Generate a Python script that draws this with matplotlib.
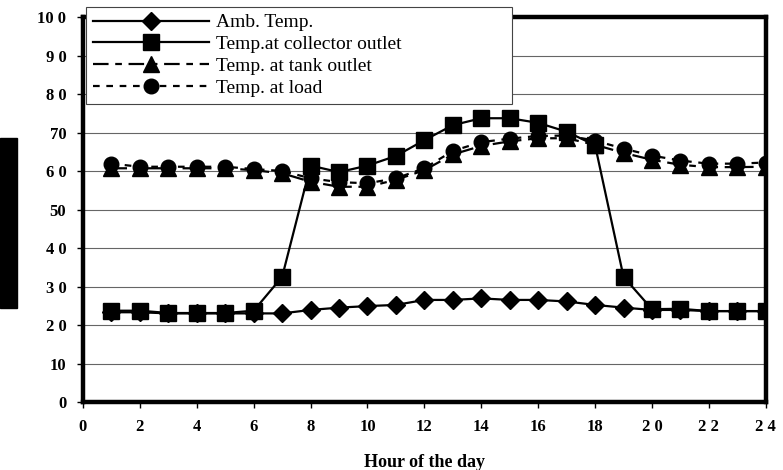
import matplotlib.pyplot as plt
import matplotlib.patches as mpatches

hours = list(range(1, 25))

# ambient temperature (diamonds)
amb_temp = [23.4, 23.4, 23.1, 23.1, 23.1, 23.1, 23.1, 24.0, 24.6, 25.0, 25.3, 26.6,
            26.6, 27.0, 26.6, 26.6, 26.2, 25.3, 24.6, 24.0, 24.0, 23.7, 23.7, 23.7]
# collector outlet (squares)
collector_temp = [23.8, 23.8, 23.2, 23.2, 23.2, 23.8, 32.6, 61.5, 59.8, 61.5, 64.0, 68.1,
                  72.0, 73.8, 73.8, 72.6, 70.3, 66.8, 32.6, 24.2, 24.3, 23.7, 23.7, 23.7]
# tank outlet (triangles)
tank_temp = [60.8, 60.8, 60.8, 60.8, 60.8, 60.3, 59.5, 57.3, 56.0, 56.0, 57.8, 60.3,
             64.4, 66.6, 67.8, 68.6, 68.6, 66.9, 64.8, 63.0, 61.7, 61.1, 61.1, 61.2]
# load (circles)
load_temp = [62.0, 61.2, 61.2, 61.2, 61.2, 60.6, 60.1, 58.2, 57.2, 56.9, 58.2, 60.8,
             65.3, 67.6, 68.5, 69.2, 69.3, 68.0, 65.9, 64.1, 62.8, 62.0, 62.0, 62.3]

x_ticks = [0, 2, 4, 6, 8, 10, 12, 14, 16, 18, 20, 22, 24]
x_labels = ["0", "2", "4", "6", "8", "10", "12", "14", "16", "18", "2 0", "2 2", "2 4"]
y_ticks = [0, 10, 20, 30, 40, 50, 60, 70, 80, 90, 100]
y_labels = ["0", "10", "2 0", "3 0", "4 0", "50", "6 0", "70", "8 0", "9 0", "10 0"]

serif = "Liberation Serif"

fig = plt.figure(figsize=(7.83, 4.70), dpi=100)
ax = fig.add_axes([0.106, 0.144, 0.872, 0.819])

ax.plot(hours, amb_temp, color="black", lw=1.6, marker="D", ms=9.5, label="Amb. Temp.")
ax.plot(hours, collector_temp, color="black", lw=1.6, marker="s", ms=11, label="Temp.at collector outlet")
ax.plot(hours, tank_temp, color="black", lw=1.6, marker="^", ms=11,
        dashes=(7, 3, 3, 3), label="Temp. at tank outlet")
ax.plot(hours, load_temp, color="black", lw=1.6, marker="o", ms=10.5,
        dashes=(3, 3), label="Temp. at load")

ax.set_xlim(0, 24)
ax.set_ylim(0, 100)
ax.set_xticks(x_ticks)
ax.set_xticklabels(x_labels)
ax.set_yticks(y_ticks)
ax.set_yticklabels(y_labels)
for lab in ax.get_xticklabels() + ax.get_yticklabels():
    lab.set_fontfamily(serif)
    lab.set_fontweight("bold")
    lab.set_fontsize(12)
ax.tick_params(axis="both", direction="out", length=4, width=1, pad=8)

ax.yaxis.grid(True, color="#666666", lw=0.8)
ax.set_axisbelow(True)
for s in ax.spines.values():
    s.set_linewidth(3.2)

ax.set_xlabel("Hour of the day", fontfamily=serif, fontweight="bold", fontsize=13, labelpad=14)

leg = ax.legend(loc="upper left", bbox_to_anchor=(0.004, 1.027, 0.625, 0.0), mode="expand",
                borderaxespad=0, frameon=True, fancybox=False, framealpha=1,
                handlelength=6.0, handletextpad=0.35, borderpad=0.35, labelspacing=0.22,
                prop={"family": serif, "size": 14})
leg.get_frame().set_edgecolor("#444444")
leg.get_frame().set_linewidth(0.8)

# black block on the left edge
fig.patches.append(mpatches.Rectangle((0, 162 / 470), 17 / 783, 170 / 470,
                                      transform=fig.transFigure, color="black"))

plt.savefig("out.png", dpi=100)
